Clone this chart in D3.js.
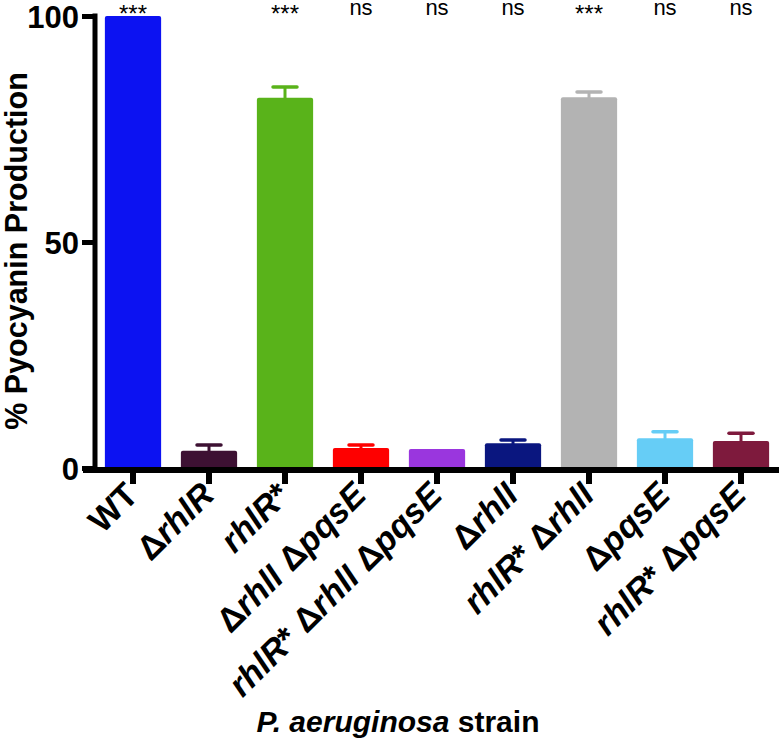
<!DOCTYPE html>
<html><head><meta charset="utf-8">
<script src="https://cdn.jsdelivr.net/npm/d3@7"></script>
<style>body{margin:0;background:#fff}svg{display:block}</style>
</head><body>
<script>
const categories = ["WT","ΔrhlR","rhlR*","ΔrhlI ΔpqsE","rhlR* ΔrhlI ΔpqsE","ΔrhlI","rhlR* ΔrhlI","ΔpqsE","rhlR* ΔpqsE"];
const values = [100, 3.8, 81.9, 4.4, 4.2, 5.5, 82.0, 6.6, 6.0];
const errors = [0, 1.3, 2.4, 0.7, 0, 0.7, 1.2, 1.4, 1.7];
const significance = ["***","","***","ns","ns","ns","***","ns","ns"];
const colors = ["#0c12f2","#3d1133","#59b31a","#fe0000","#9a36de","#0a167f","#b3b3b3","#66cdf6","#7e1a3d"];
const yTicks = [0, 50, 100];

const W = 779, H = 741;
const font = "'Liberation Sans', Arial, sans-serif";
const svg = d3.select("body").append("svg").attr("width", W).attr("height", H);

const x = d3.scaleBand().domain(categories).range([95, 779]).paddingInner(0.26).paddingOuter(0.13);
const y = d3.scaleLinear().domain([0, 100]).range([468, 16]);

// bars
svg.selectAll("rect.bar").data(categories).enter().append("rect")
  .attr("x", d => x(d)).attr("width", x.bandwidth())
  .attr("y", (d,i) => y(values[i])).attr("height", (d,i) => y(0) - y(values[i]) + 2)
  .attr("rx", 2).attr("fill", (d,i) => colors[i]);

// error bars (upper only)
categories.forEach((c,i) => {
  if (!errors[i]) return;
  const cx = x(c) + x.bandwidth()/2;
  const top = y(values[i] + errors[i]);
  svg.append("line").attr("x1", cx).attr("x2", cx).attr("y1", y(values[i]) + 1).attr("y2", top)
    .attr("stroke", colors[i]).attr("stroke-width", 3);
  svg.append("line").attr("x1", cx - 12).attr("x2", cx + 12).attr("y1", top).attr("y2", top)
    .attr("stroke", colors[i]).attr("stroke-width", 3.5).attr("stroke-linecap", "round");
});

// y axis
const yAxis = svg.append("g").attr("transform", "translate(95,0)")
  .call(d3.axisLeft(y).tickValues(yTicks).tickSize(13).tickPadding(3).tickFormat(d3.format("d")));
yAxis.select(".domain").remove();
yAxis.selectAll(".tick line").attr("stroke", "#000").attr("stroke-width", 5);
yAxis.selectAll(".tick text").attr("font-family", font).attr("font-weight", "bold")
  .attr("font-size", 31).attr("fill", "#000").attr("dy", "0.36em");
svg.append("line").attr("x1", 95).attr("x2", 95).attr("y1", y(100) - 2.5).attr("y2", 472)
  .attr("stroke", "#000").attr("stroke-width", 5);

// x axis
const xAxis = svg.append("g").attr("transform", "translate(0,470)")
  .call(d3.axisBottom(x).tickSize(14).tickFormat(""));
xAxis.select(".domain").remove();
xAxis.selectAll(".tick line").attr("stroke", "#000").attr("stroke-width", 6);
svg.append("line").attr("x1", 83).attr("x2", 779).attr("y1", 470).attr("y2", 470)
  .attr("stroke", "#000").attr("stroke-width", 6);

// x tick labels
categories.forEach((c) => {
  const cx = x(c) + x.bandwidth()/2;
  const t = svg.append("text").attr("transform", `translate(${cx + 7},${497}) rotate(-45)`)
    .attr("text-anchor", "end").attr("font-family", font).attr("font-weight", "bold")
    .attr("font-size", 34).attr("fill", "#000");
  const parts = c.split(/(Δ|\*| )/).filter(p => p !== "");
  parts.forEach(p => {
    const ital = /^[a-zA-Z]+$/.test(p) && p !== "WT";
    t.append("tspan").text(p).attr("font-style", ital ? "italic" : "normal");
  });
});

// significance
categories.forEach((c,i) => {
  const cx = x(c) + x.bandwidth()/2;
  const s = significance[i];
  if (!s) return;
  svg.append("text").attr("x", cx).attr("y", s === "ns" ? 15 : 22)
    .attr("text-anchor", "middle").attr("font-family", font)
    .attr("font-size", s === "ns" ? 22 : 24).attr("fill", "#000").text(s);
});

// axis titles
svg.append("text").attr("transform", "translate(27,251) rotate(-90)")
  .attr("text-anchor", "middle").attr("font-family", font).attr("font-weight", "bold")
  .attr("font-size", 30.5).attr("fill", "#000").text("% Pyocyanin Production");

const xt = svg.append("text").attr("x", 398).attr("y", 732).attr("text-anchor", "middle")
  .attr("font-family", font).attr("font-weight", "bold").attr("font-size", 30).attr("fill", "#000");
xt.append("tspan").attr("font-style", "italic").text("P. aeruginosa");
xt.append("tspan").text(" strain");
</script>
</body></html>
